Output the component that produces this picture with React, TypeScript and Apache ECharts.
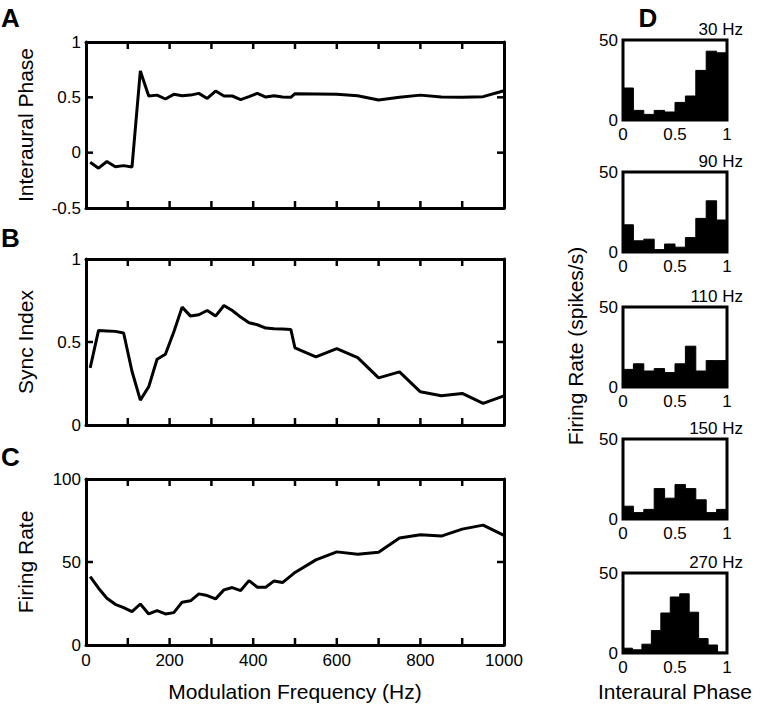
import React, { useEffect, useRef } from "react";
import * as echarts from "echarts";

// ---- Data ----
const freqs = [
  10, 30, 50, 70, 90, 110, 130, 150, 170, 190, 210, 230, 250, 270, 290, 310, 330, 350, 370, 390,
  410, 430, 450, 470, 490, 500, 550, 600, 650, 700, 750, 800, 850, 900, 950, 1000,
];
const interauralPhase = [
  -0.087, -0.14, -0.08, -0.127, -0.117, -0.13, 0.738, 0.512, 0.52, 0.485, 0.527, 0.515, 0.52,
  0.536, 0.49, 0.557, 0.512, 0.512, 0.48, 0.506, 0.536, 0.503, 0.515, 0.503, 0.5, 0.533, 0.53,
  0.527, 0.515, 0.476, 0.5, 0.52, 0.503, 0.5, 0.506, 0.56,
];
const syncIndex = [
  0.344, 0.57, 0.567, 0.564, 0.554, 0.324, 0.15, 0.23, 0.396, 0.426, 0.56, 0.71, 0.656, 0.664,
  0.69, 0.656, 0.72, 0.69, 0.65, 0.616, 0.604, 0.584, 0.58, 0.578, 0.576, 0.464, 0.41, 0.46,
  0.406, 0.284, 0.32, 0.2, 0.176, 0.19, 0.13, 0.176,
];
const firingRate = [
  41.2, 34.2, 28.2, 24.5, 22.5, 20.1, 24.7, 18.7, 20.7, 18.7, 19.5, 25.8, 26.6, 30.8, 29.8, 27.8,
  33.2, 34.6, 32.8, 38.8, 34.8, 34.8, 38.6, 37.6, 41.6, 43.7, 51.3, 56.1, 54.7, 55.9, 64.4, 66.4,
  65.6, 69.8, 72.2, 66,
];

// tick values
const freqTicks = [100, 200, 300, 400, 500, 600, 700, 800, 900];
const phaseTicks = [0, 0.5];
const syncTicks = [0.5];
const rateTicks = [50];

const histLabels = ["30 Hz", "90 Hz", "110 Hz", "150 Hz", "270 Hz"];
const hist30 = [20, 6, 3.5, 6, 5, 11, 15, 31, 43, 42];
const hist90 = [17, 7, 8, 1.5, 5, 3, 9, 21, 32, 20];
const hist110 = [11, 14.5, 10, 11.5, 9, 14.5, 25.5, 10, 16.5, 16.5];
const hist150 = [8, 4, 6, 19, 13, 21.5, 19, 12, 4, 6];
const hist270 = [3, 2, 5.5, 14, 25, 35, 37, 25.5, 9, 5, 0.5];
const histograms = [hist30, hist90, hist110, hist150, hist270];

const panelLetters = ["A", "B", "C", "D"];
const mainYTitles = ["Interaural Phase", "Sync Index", "Firing Rate"];
const xTitle = "Modulation Frequency (Hz)";
const histYTitle = "Firing Rate (spikes/s)";
const histXTitle = "Interaural Phase";

// ---- Layout ----
const FONT = "'Liberation Sans', Arial, sans-serif";
const MAIN_LEFT = 86;
const MAIN_W = 418;
const MAIN_H = 166;
const MAIN_TOPS = [42, 259, 479];
const HIST_LEFT = 623;
const HIST_W = 104;
const HIST_H = 80;
const HIST_TOPS = [40, 172, 307, 439, 573];
const TICK_LEN = 7;

const mainY = [
  { min: -0.5, max: 1, interval: 0.5 },
  { min: 0, max: 1, interval: 0.5 },
  { min: 0, max: 100, interval: 50 },
];
const mainYTicks = [phaseTicks, syncTicks, rateTicks];
const mainSeries = [interauralPhase, syncIndex, firingRate];

export default function App() {
  const ref = useRef<HTMLDivElement>(null);

  useEffect(() => {
    document.body.style.margin = "0";
    if (!ref.current) return;
    const chart = echarts.init(ref.current, undefined, { renderer: "svg" });

    const grid: any[] = [];
    const xAxis: any[] = [];
    const yAxis: any[] = [];
    const series: any[] = [];
    const graphic: any[] = [];

    const line = { show: true, onZero: false, lineStyle: { color: "#000", width: 3 } };
    const labelStyle = { color: "#000", fontSize: 17, fontFamily: FONT };
    const tickStyle = { stroke: "#000", lineWidth: 2.5 };

    MAIN_TOPS.forEach((top, i) => {
      grid.push({ left: MAIN_LEFT, top, width: MAIN_W, height: MAIN_H });
      const isLast = i === MAIN_TOPS.length - 1;
      const yMin = mainY[i].min;
      const yMax = mainY[i].max;
      xAxis.push({
        type: "value",
        gridIndex: i,
        position: "bottom",
        min: 0,
        max: 1000,
        interval: 100,
        axisLine: line,
        axisTick: { show: false },
        splitLine: { show: false },
        axisLabel: isLast
          ? {
              margin: 7,
              ...labelStyle,
              formatter: (v: number) => (v % 200 === 0 ? String(v) : ""),
            }
          : { show: false },
      });
      xAxis.push({
        type: "value",
        gridIndex: i,
        position: "top",
        min: 0,
        max: 1000,
        interval: 100,
        axisLine: line,
        axisTick: { show: false },
        splitLine: { show: false },
        axisLabel: { show: false },
      });
      yAxis.push({
        type: "value",
        gridIndex: i,
        position: "left",
        ...mainY[i],
        axisLine: line,
        axisTick: { show: false },
        splitLine: { show: false },
        axisLabel: { margin: 5, ...labelStyle },
      });
      yAxis.push({
        type: "value",
        gridIndex: i,
        position: "right",
        ...mainY[i],
        axisLine: line,
        axisTick: { show: false },
        splitLine: { show: false },
        axisLabel: { show: false },
      });
      series.push({
        type: "line",
        xAxisIndex: 2 * i,
        yAxisIndex: 2 * i,
        data: freqs.map((f, k) => [f, mainSeries[i][k]]),
        symbol: "none",
        lineStyle: { color: "#000", width: 3 },
      });
      // x ticks (inward, on bottom and top borders)
      series.push({
        type: "custom",
        xAxisIndex: 2 * i,
        yAxisIndex: 2 * i,
        silent: true,
        clip: false,
        data: freqTicks.map((v) => [v, yMin]),
        renderItem: (params: any, api: any) => {
          const v = api.value(0);
          const b = api.coord([v, yMin]);
          const t = api.coord([v, yMax]);
          return {
            type: "group",
            children: [
              { type: "line", shape: { x1: b[0], y1: b[1], x2: b[0], y2: b[1] - TICK_LEN }, style: tickStyle },
              { type: "line", shape: { x1: t[0], y1: t[1], x2: t[0], y2: t[1] + TICK_LEN }, style: tickStyle },
            ],
          };
        },
      });
      // y ticks (inward, on left and right borders)
      series.push({
        type: "custom",
        xAxisIndex: 2 * i,
        yAxisIndex: 2 * i,
        silent: true,
        clip: false,
        data: mainYTicks[i].map((v) => [0, v]),
        renderItem: (params: any, api: any) => {
          const v = api.value(1);
          const l = api.coord([0, v]);
          const r = api.coord([1000, v]);
          return {
            type: "group",
            children: [
              { type: "line", shape: { x1: l[0], y1: l[1], x2: l[0] + TICK_LEN, y2: l[1] }, style: tickStyle },
              { type: "line", shape: { x1: r[0], y1: r[1], x2: r[0] - TICK_LEN, y2: r[1] }, style: tickStyle },
            ],
          };
        },
      });
      graphic.push({
        type: "text",
        x: 25,
        y: top + MAIN_H / 2,
        rotation: Math.PI / 2,
        style: {
          text: mainYTitles[i],
          font: `21px ${FONT}`,
          fill: "#000",
          align: "center",
          verticalAlign: "middle",
          textAlign: "center",
          textVerticalAlign: "middle",
        },
      });
    });

    HIST_TOPS.forEach((top, j) => {
      const gi = MAIN_TOPS.length + j;
      grid.push({
        left: HIST_LEFT,
        top,
        width: HIST_W,
        height: HIST_H,
        show: true,
        borderColor: "#000",
        borderWidth: 3,
      });
      xAxis.push({
        type: "value",
        gridIndex: gi,
        min: 0,
        max: 1,
        interval: 0.5,
        axisLine: { show: false, onZero: false },
        axisTick: { show: false },
        splitLine: { show: false },
        axisLabel: { margin: 6, ...labelStyle },
      });
      yAxis.push({
        type: "value",
        gridIndex: gi,
        min: 0,
        max: 50,
        interval: 50,
        axisLine: { show: false, onZero: false },
        axisTick: { show: false },
        splitLine: { show: false },
        axisLabel: { margin: 5, ...labelStyle },
      });
      const bins = histograms[j];
      const n = bins.length;
      const data = bins.map((v, k) => [k / n, v]).concat([[1, bins[n - 1]]]);
      series.push({
        type: "line",
        xAxisIndex: 6 + j,
        yAxisIndex: 6 + j,
        step: "end",
        data,
        symbol: "none",
        lineStyle: { color: "#000", width: 1 },
        areaStyle: { color: "#000", opacity: 1 },
      });
      graphic.push({
        type: "text",
        x: 743,
        y: top - 10.5,
        style: {
          text: histLabels[j],
          font: `17px ${FONT}`,
          fill: "#000",
          align: "right",
          verticalAlign: "middle",
          textAlign: "right",
          textVerticalAlign: "middle",
        },
      });
    });

    const letterPos = [
      [10.5, 18],
      [10.5, 238],
      [10.5, 457],
      [648, 18],
    ];
    panelLetters.forEach((L, k) => {
      graphic.push({
        type: "text",
        x: letterPos[k][0],
        y: letterPos[k][1],
        style: {
          text: L,
          font: `bold 26px ${FONT}`,
          fill: "#000",
          align: "center",
          verticalAlign: "middle",
          textAlign: "center",
          textVerticalAlign: "middle",
        },
      });
    });

    graphic.push({
      type: "text",
      x: MAIN_LEFT + MAIN_W / 2,
      y: 691,
      style: {
        text: xTitle,
        font: `21px ${FONT}`,
        fill: "#000",
        align: "center",
        verticalAlign: "middle",
        textAlign: "center",
        textVerticalAlign: "middle",
      },
    });
    graphic.push({
      type: "text",
      x: HIST_LEFT + HIST_W / 2,
      y: 691,
      style: {
        text: histXTitle,
        font: `21px ${FONT}`,
        fill: "#000",
        align: "center",
        verticalAlign: "middle",
        textAlign: "center",
        textVerticalAlign: "middle",
      },
    });
    graphic.push({
      type: "text",
      x: 575,
      y: 346,
      rotation: Math.PI / 2,
      style: {
        text: histYTitle,
        font: `21px ${FONT}`,
        fill: "#000",
        align: "center",
        verticalAlign: "middle",
        textAlign: "center",
        textVerticalAlign: "middle",
      },
    });

    chart.setOption({
      animation: false,
      grid,
      xAxis,
      yAxis,
      series,
      graphic,
    });

    return () => chart.dispose();
  }, []);

  return (
    <div
      ref={ref}
      style={{ position: "absolute", left: 0, top: 0, width: 765, height: 707 }}
    />
  );
}
